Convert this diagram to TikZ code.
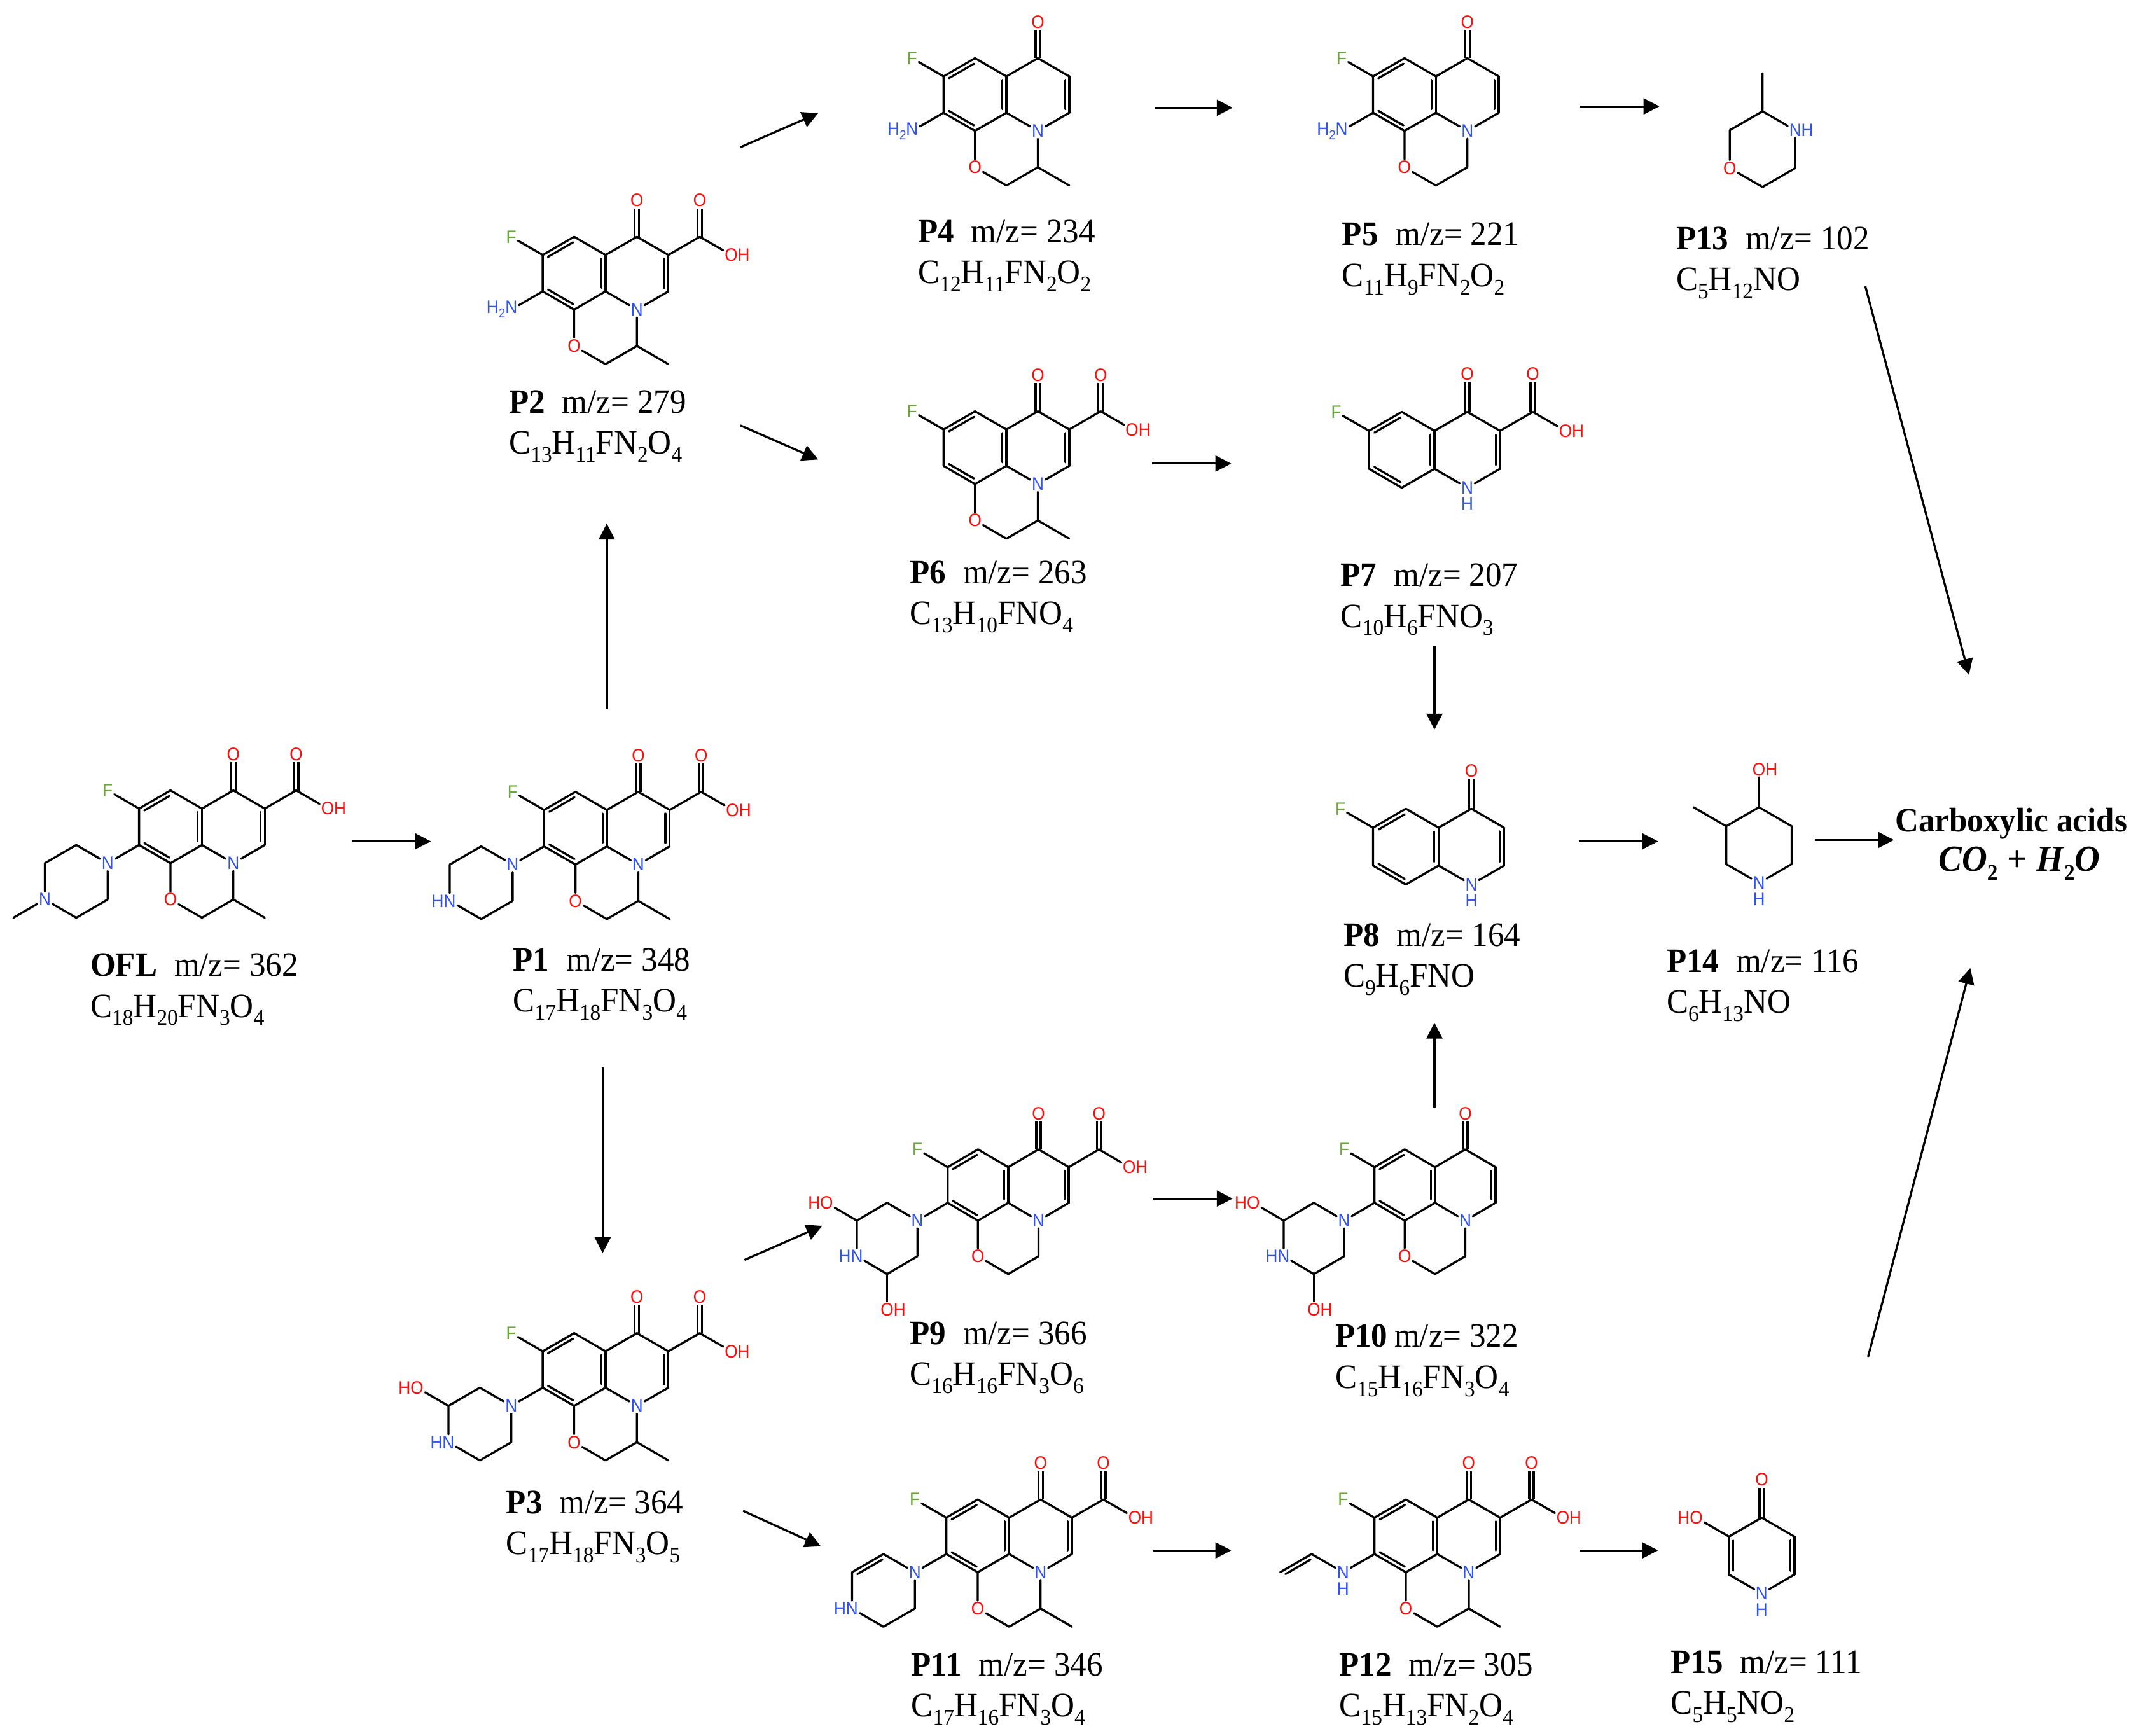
\documentclass[tikz,border=0pt]{standalone}
\usepackage{fontspec}
\setmainfont[FakeStretch=0.95]{Liberation Serif}
\newfontfamily\atomfont[FakeStretch=0.92]{Liberation Sans}
\usetikzlibrary{calc,arrows.meta}
\definecolor{atomblue}{RGB}{48,80,248}
\definecolor{atomred}{RGB}{255,13,13}
\definecolor{atomgreen}{RGB}{106,168,60}
\newcommand\sbs[1]{\raisebox{-0.24em}{\fontsize{10}{10}\selectfont #1}}
\newcommand\asub[1]{\raisebox{-0.25em}{\fontsize{5.8}{6}\selectfont #1}}
\newcommand\dbl[3]{\draw[bond](#1)--(#2);\draw[bond]($(#1)!.1!(#2)!#3!90:(#2)$)--($(#1)!.9!(#2)!#3!-90:(#1)$);}
\newcommand\core{%
  \coordinate (a) at (0,0); \coordinate (b) at (1,-1); \coordinate (c) at (2,0);
  \coordinate (d) at (2,2); \coordinate (e) at (1,3); \coordinate (f) at (0,2);
  \coordinate (g) at (3,-1); \coordinate (h) at (4,0); \coordinate (i) at (4,2);
  \node[atomN] (n) at (3,3) {N};
  \node[atomF] (fl) at (-1,-1) {F};
  \node[atomO] (o1) at (3,-3) {O};
  \draw[dbond] (g)--(o1);
  \dbl{a}{b}{-0.067cm}\dbl{c}{d}{-0.067cm}\dbl{f}{e}{0.067cm}\dbl{h}{i}{-0.067cm}
  \draw[bond] (fl)--(a) (a)--(f) (b)--(c) (c)--(g) (g)--(h) (i)--(n) (n)--(d) (d)--(e);
}
\newcommand\cooh{%
  \coordinate (k) at (5,-1);
  \node[atomO] (o2) at (5,-3) {O};
  \node[atomO] (oh) at (6,0) {O\rlap{H}};
  \draw[dbond] (k)--(o2);
  \draw[bond] (h)--(k) (k)--(oh);
}
\newcommand\oring{%
  \node[atomO] (o) at (1,5) {O};
  \coordinate (m) at (2,6); \coordinate (p) at (3,5);
  \draw[bond] (e)--(o) (o)--(m) (m)--(p) (p)--(n);
}
\newcommand\methyl{\coordinate (q) at (4,6); \draw[bond] (p)--(q);}
\newcommand\pipe[1]{%
  \node[atomN] (nz) at (-1,3) {N};
  \coordinate (w) at (-2,2); \coordinate (x) at (-3,3);
  \coordinate (z) at (-2,6); \coordinate (v) at (-1,5);
  \node[atomN] (y) at (-3,5) {#1};
  \draw[bond] (f)--(nz) (nz)--(w) (x)--(y) (y)--(z) (z)--(v) (v)--(nz);
}
\newcommand\amino{%
  \node[atomN] (nz) at (-1,3) {\llap{H\asub{2}}N};
  \draw[bond] (f)--(nz);
}
\newcommand\hydx{\node[atomO] (ho) at (-4,2) {\llap{H}O}; \draw[bond] (x)--(ho);}
\newcommand\hydz{\node[atomO] (hz) at (-2,8) {O\rlap{H}}; \draw[bond] (z)--(hz);}
\newcommand\capt[6][0.5em]{%
  \node[captext] (#2a) at (#3,#4+8) {\textbf{#2}\hspace{#1}m/z= #5};
  \node[captext] (#2b) at (#3,#4+38) {#6};
}
\newcommand\arr[3]{%
  \coordinate (#1s) at (#2); \coordinate (#1e) at (#3);
  \draw[arrowline] (#1s) -- (#1e);
}
\tikzset{
  bond/.style={line width=0.033cm,line cap=round,black},
  dbond/.style={line width=0.033cm,double,double distance=0.037cm,black},
  atomN/.style={font=\atomfont\fontsize{8.1}{8}\selectfont,text=atomblue,inner sep=0.025cm,outer sep=0pt},
  atomO/.style={font=\atomfont\fontsize{8.1}{8}\selectfont,text=atomred,inner sep=0.025cm,outer sep=0pt},
  atomF/.style={font=\atomfont\fontsize{8.1}{8}\selectfont,text=atomgreen,inner sep=0.025cm,outer sep=0pt},
  captext/.style={font=\fontsize{15.3}{16}\selectfont,anchor=base west,inner sep=0pt},
  capbold/.style={font=\fontsize{15.3}{16}\selectfont\bfseries,anchor=base,inner sep=0pt},
  arrowline/.style={line width=0.033cm,-{Triangle[length=0.25cm,width=0.25cm]}},
  mol/.style n args={3}{name prefix=#1-,shift={(#2,#3)},x=0.494cm,y=-0.286cm},
  big/.style={x=0.515cm,y=-0.298cm},
  tight/.style={x=0.476cm,y=-0.28cm}
}
\begin{document}
\begin{tikzpicture}[x=0.021435cm,y=-0.021435cm]
\useasboundingbox (0,0) rectangle (1568,1273);
% OFL
\begin{scope}[mol={ofl}{102}{593}]
 \core\cooh\oring\methyl\pipe{N}
 \draw[bond] (w)--(x);
 \coordinate (me) at (-4,6); \draw[bond] (y)--(me);
\end{scope}
\begin{scope}[mol={p1}{399}{594}]
 \core\cooh\oring\methyl\pipe{\llap{H}N}
 \draw[bond] (w)--(x);
\end{scope}
\begin{scope}[mol={p2}{398}{187}]
 \core\cooh\oring\methyl\amino
\end{scope}
\begin{scope}[mol={p3}{398}{991}]
 \core\cooh\oring\methyl\pipe{\llap{H}N}
 \draw[bond] (w)--(x); \hydx
\end{scope}
\begin{scope}[mol={p4}{692}{56}]
 \core\oring\methyl\amino
\end{scope}
\begin{scope}[mol={p5}{1007}{56}]
 \core\oring\amino
\end{scope}
\begin{scope}[mol={p6}{692}{315}]
 \core\cooh\oring\methyl
\end{scope}
\begin{scope}[mol={p7}{1004}{316},big]
 \core\cooh
 \node[atomN] (nh) at (3,3.85) {H};
\end{scope}
\begin{scope}[mol={p8}{1007}{607},big]
 \core
 \node[atomN] (nh) at (3,3.85) {H};
\end{scope}
\begin{scope}[mol={p9}{695}{856},tight]
 \core\cooh\oring\pipe{\llap{H}N}
 \draw[bond] (w)--(x); \hydx\hydz
\end{scope}
\begin{scope}[mol={p10}{1008}{856},tight]
 \core\oring\pipe{\llap{H}N}
 \draw[bond] (w)--(x); \hydx\hydz
\end{scope}
\begin{scope}[mol={p11}{694}{1113}]
 \core\cooh\oring\methyl\pipe{\llap{H}N}
 \dbl{w}{x}{0.067cm}
\end{scope}
\begin{scope}[mol={p12}{1008}{1113}]
 \core\cooh\oring\methyl
 \node[atomN] (nz) at (-1,3) {N};
 \node[atomN] (nzh) at (-1,3.9) {H};
 \coordinate (w) at (-2,2); \coordinate (x) at (-3,3);
 \draw[bond] (f)--(nz) (nz)--(w);
 \dbl{w}{x}{0.067cm}
\end{scope}
\begin{scope}[mol={p13}{1292.6}{81.6},big]
 \coordinate (t) at (0,0); \coordinate (me) at (0,-2); \coordinate (l) at (-1,1);
 \node[atomO] (o) at (-1,3) {O};
 \coordinate (bt) at (0,4); \coordinate (rl) at (1,3);
 \node[atomN] (n) at (1,1) {N\rlap{H}};
 \draw[bond] (me)--(t) (t)--(l) (l)--(o) (o)--(bt) (bt)--(rl) (rl)--(n) (n)--(t);
\end{scope}
\begin{scope}[mol={p14}{1290}{592},big]
 \coordinate (t) at (0,0); \coordinate (me) at (-2,0); \coordinate (l) at (-1,1);
 \coordinate (ll) at (-1,3); \coordinate (rl) at (1,3); \coordinate (r) at (1,1);
 \node[atomO] (o) at (0,-2) {O\rlap{H}};
 \node[atomN] (n) at (0,4) {N};
 \node[atomN] (nh) at (0,4.85) {H};
 \draw[bond] (o)--(t) (t)--(l) (me)--(l) (l)--(ll) (ll)--(n) (n)--(rl) (rl)--(r) (r)--(t);
\end{scope}
\begin{scope}[mol={p15}{1292}{1113},big]
 \coordinate (t) at (0,0); \coordinate (l) at (-1,1);
 \coordinate (ll) at (-1,3); \coordinate (rl) at (1,3); \coordinate (r) at (1,1);
 \node[atomO] (o) at (0,-2) {O};
 \node[atomO] (ho) at (-2,0) {\llap{H}O};
 \node[atomN] (n) at (0,4) {N};
 \node[atomN] (nh) at (0,4.85) {H};
 \draw[dbond] (t)--(o);
 \dbl{l}{ll}{0.067cm}\dbl{r}{rl}{-0.067cm}
 \draw[bond] (t)--(l) (ho)--(l) (ll)--(n) (n)--(rl) (r)--(t);
\end{scope}
% captions
\capt{OFL}{66}{708}{362}{C\sbs{18}H\sbs{20}FN\sbs{3}O\sbs{4}}
\capt{P1}{376}{704}{348}{C\sbs{17}H\sbs{18}FN\sbs{3}O\sbs{4}}
\capt{P2}{373}{295}{279}{C\sbs{13}H\sbs{11}FN\sbs{2}O\sbs{4}}
\capt{P3}{371}{1102}{364}{C\sbs{17}H\sbs{18}FN\sbs{3}O\sbs{5}}
\capt{P4}{673}{170}{234}{C\sbs{12}H\sbs{11}FN\sbs{2}O\sbs{2}}
\capt{P5}{984}{172}{221}{C\sbs{11}H\sbs{9}FN\sbs{2}O\sbs{2}}
\capt{P6}{667}{420}{263}{C\sbs{13}H\sbs{10}FNO\sbs{4}}
\capt{P7}{983}{422}{207}{C\sbs{10}H\sbs{6}FNO\sbs{3}}
\capt{P8}{985}{686}{164}{C\sbs{9}H\sbs{6}FNO}
\capt{P9}{667}{978}{366}{C\sbs{16}H\sbs{16}FN\sbs{3}O\sbs{6}}
\capt[0.2em]{P10}{979}{980}{322}{C\sbs{15}H\sbs{16}FN\sbs{3}O\sbs{4}}
\capt{P11}{668}{1221}{346}{C\sbs{17}H\sbs{16}FN\sbs{3}O\sbs{4}}
\capt{P12}{982}{1221}{305}{C\sbs{15}H\sbs{13}FN\sbs{2}O\sbs{4}}
\capt{P13}{1229}{175}{102}{C\sbs{5}H\sbs{12}NO}
\capt{P14}{1222}{705}{116}{C\sbs{6}H\sbs{13}NO}
\capt{P15}{1225}{1219}{111}{C\sbs{5}H\sbs{5}NO\sbs{2}}
% product text
\node[capbold] (acids) at (1475,610) {Carboxylic acids};
\node[capbold] (water) at (1481,639) {\fontsize{16.5}{17}\selectfont\textit{CO}\sbs{2}\hspace{0.25em}+\hspace{0.25em}\textit{H}\sbs{2}\textit{O}};
% arrows
\arr{x1}{258,617}{316,617}
\arr{x2}{445,520}{445,384}
\arr{x3}{442,783}{442,919}
\arr{x4}{543,108}{600,83}
\arr{x5}{543,312}{600,337}
\arr{x6}{847,79}{904,79}
\arr{x7}{1159,78}{1217,78}
\arr{x8}{845,340}{903,340}
\arr{x9}{1052,474}{1052,535}
\arr{x10}{1158,617}{1216,617}
\arr{x11}{1331,616}{1389,616}
\arr{x12}{1368,210}{1444,495}
\arr{x13}{546,924}{603,899}
\arr{x14}{545,1108}{602,1134}
\arr{x15}{846,879}{904,879}
\arr{x16}{1052,812}{1052,750}
\arr{x17}{846,1137}{903,1137}
\arr{x18}{1159,1137}{1216,1137}
\arr{x19}{1370,995}{1445,710}
\end{tikzpicture}
\end{document}
